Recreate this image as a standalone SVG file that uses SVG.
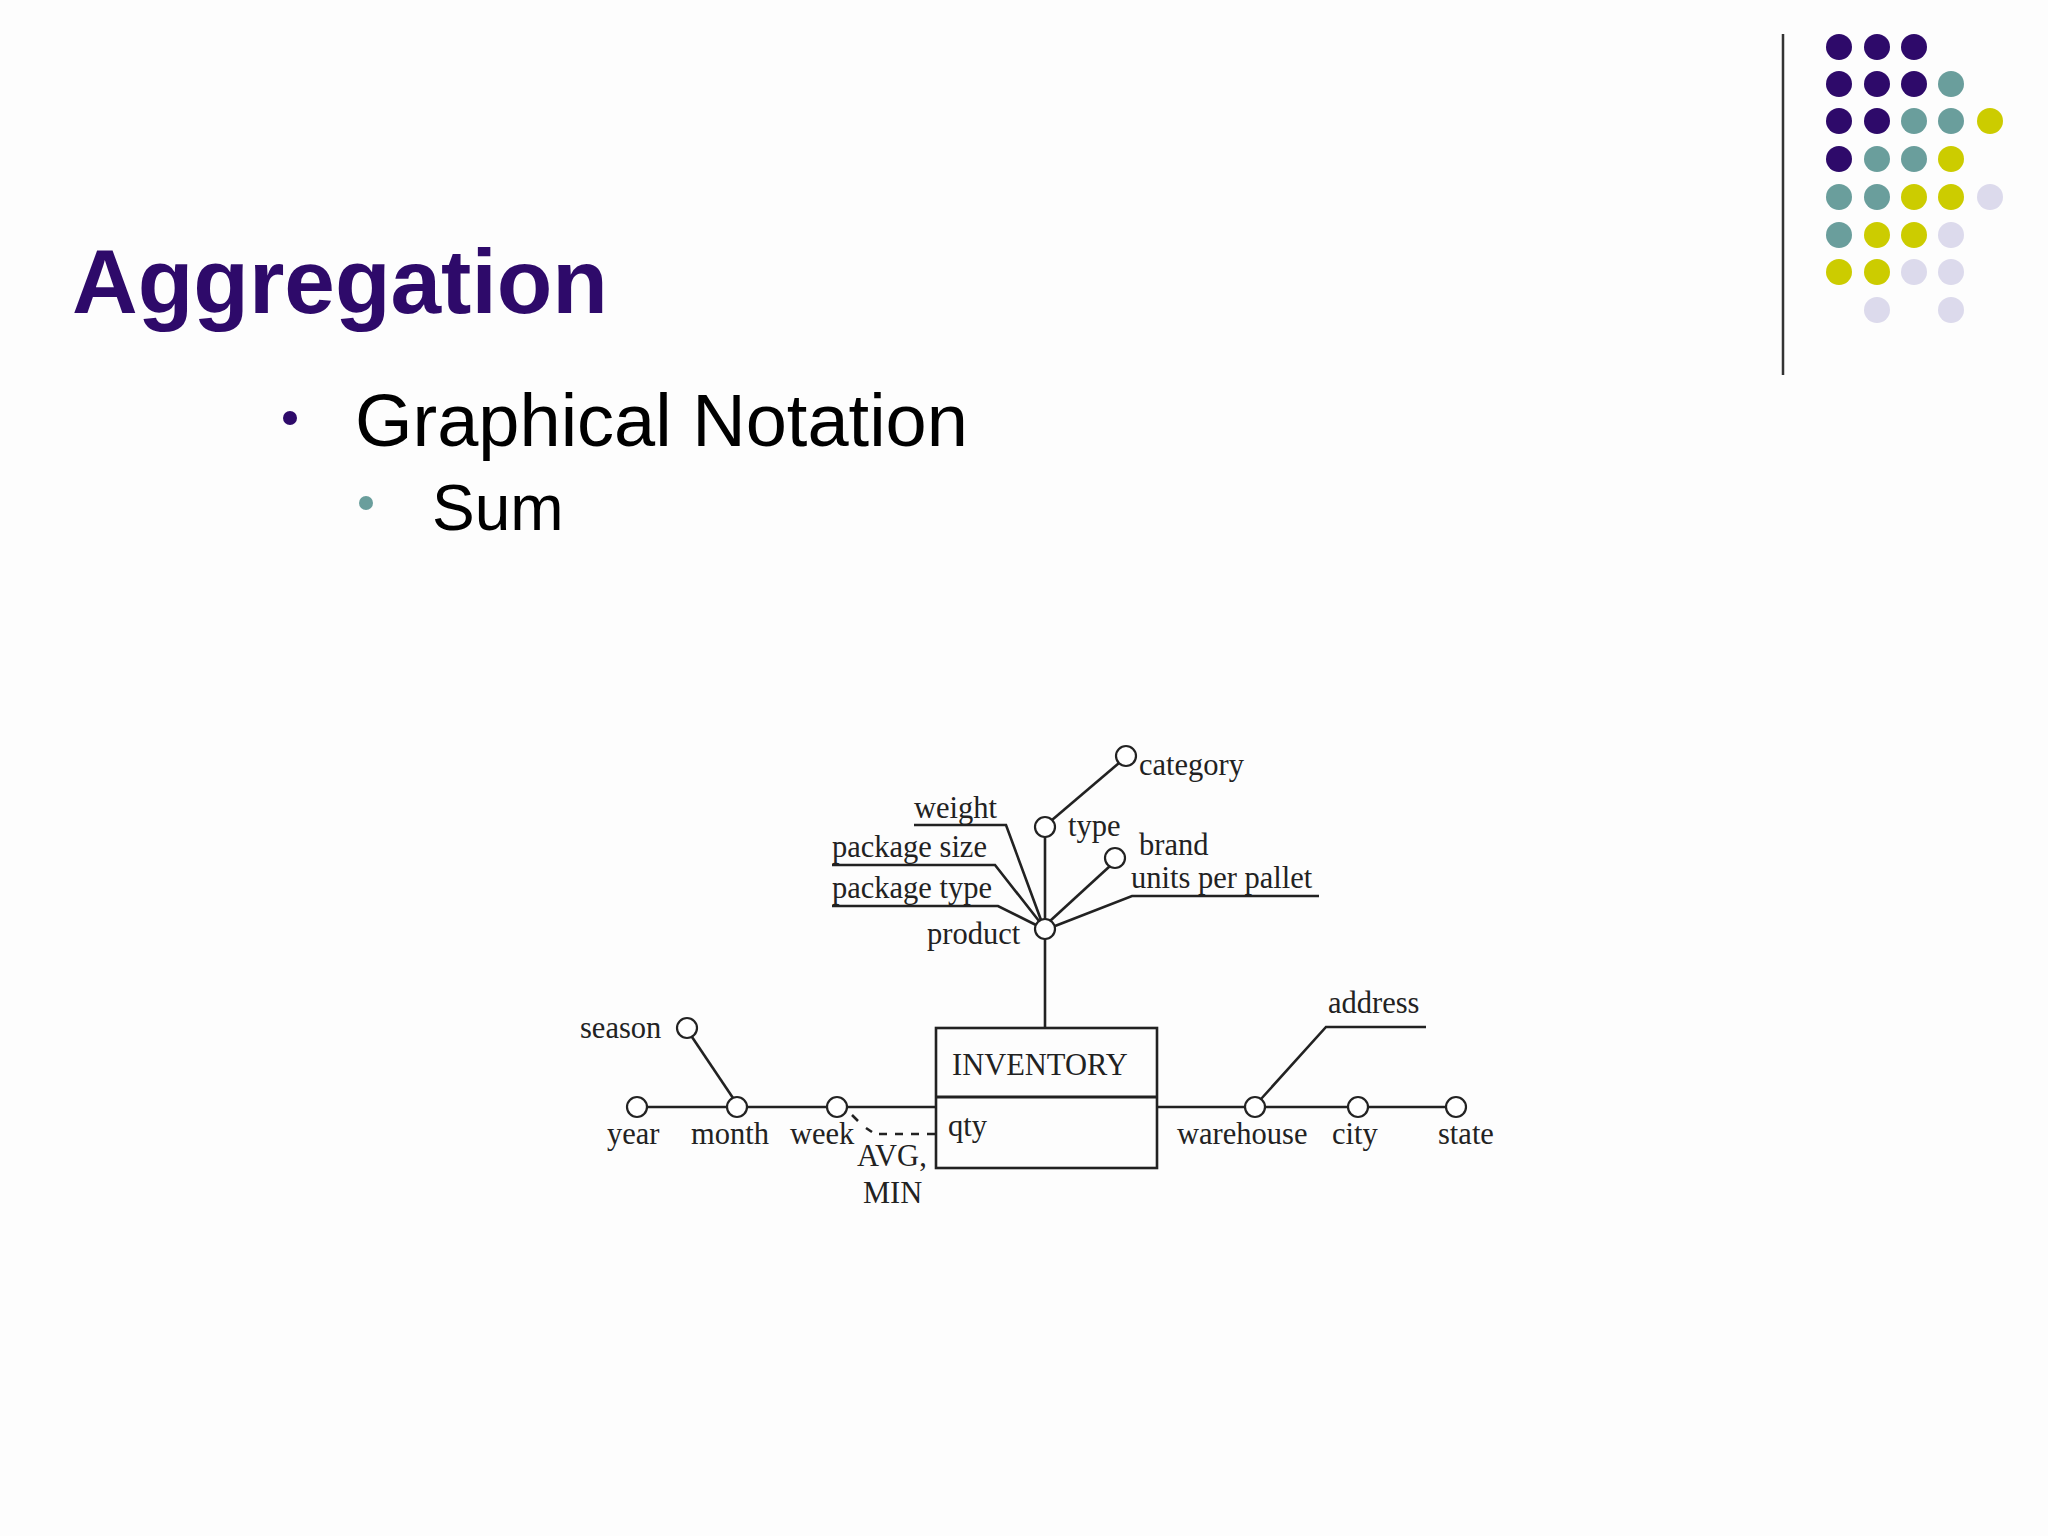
<svg xmlns="http://www.w3.org/2000/svg" width="2048" height="1536" viewBox="0 0 2048 1536">
<style>
.t{font-family:"Liberation Serif",serif;font-size:30.5px;fill:#222}
.n{fill:#fff;stroke:#222;stroke-width:2.2}
.l{stroke:#222;stroke-width:2.6;fill:none}
.d{fill:#2e0a6a}.g{fill:#6a9e9c}.y{fill:#cccc00}.p{fill:#dcdaec}
</style>
<rect width="2048" height="1536" fill="#fdfdfd"/>
<line x1="1783" y1="34" x2="1783" y2="375" stroke="#333" stroke-width="2.5"/>
<g id="dots">
<circle class="d" cx="1839" cy="47" r="13"/><circle class="d" cx="1877" cy="47" r="13"/><circle class="d" cx="1914" cy="47" r="13"/>
<circle class="d" cx="1839" cy="84" r="13"/><circle class="d" cx="1877" cy="84" r="13"/><circle class="d" cx="1914" cy="84" r="13"/><circle class="g" cx="1951" cy="84" r="13"/>
<circle class="d" cx="1839" cy="121" r="13"/><circle class="d" cx="1877" cy="121" r="13"/><circle class="g" cx="1914" cy="121" r="13"/><circle class="g" cx="1951" cy="121" r="13"/><circle class="y" cx="1990" cy="121" r="13"/>
<circle class="d" cx="1839" cy="159" r="13"/><circle class="g" cx="1877" cy="159" r="13"/><circle class="g" cx="1914" cy="159" r="13"/><circle class="y" cx="1951" cy="159" r="13"/>
<circle class="g" cx="1839" cy="197" r="13"/><circle class="g" cx="1877" cy="197" r="13"/><circle class="y" cx="1914" cy="197" r="13"/><circle class="y" cx="1951" cy="197" r="13"/><circle class="p" cx="1990" cy="197" r="13"/>
<circle class="g" cx="1839" cy="235" r="13"/><circle class="y" cx="1877" cy="235" r="13"/><circle class="y" cx="1914" cy="235" r="13"/><circle class="p" cx="1951" cy="235" r="13"/>
<circle class="y" cx="1839" cy="272" r="13"/><circle class="y" cx="1877" cy="272" r="13"/><circle class="p" cx="1914" cy="272" r="13"/><circle class="p" cx="1951" cy="272" r="13"/>
<circle class="p" cx="1877" cy="310" r="13"/><circle class="p" cx="1951" cy="310" r="13"/>
</g>
<text x="72" y="313" font-family="Liberation Sans,Arial,sans-serif" font-weight="bold" font-size="91" fill="#2e0a6a">Aggregation</text>
<circle cx="290" cy="418" r="7" fill="#2e0a6a"/>
<text x="355" y="446" font-family="Liberation Sans,Arial,sans-serif" font-size="74" fill="#000">Graphical Notation</text>
<circle cx="366" cy="503" r="7" fill="#6a9e9c"/>
<text x="432" y="530" font-family="Liberation Sans,Arial,sans-serif" font-size="64" fill="#000">Sum</text>
<g id="connectors">
<line class="l" x1="1045" y1="939" x2="1045" y2="1028" stroke-width="1.6"/>
<line class="l" x1="1045" y1="919" x2="1045" y2="837" stroke-width="1.6"/>
<line class="l" x1="1052" y1="820" x2="1119" y2="763"/>
<line class="l" x1="1050" y1="921" x2="1110" y2="866"/>
<polyline class="l" points="914,825 1006,825 1041,920"/>
<polyline class="l" points="832,865 995,865 1039,921"/>
<polyline class="l" points="832,906 998,906 1036,925"/>
<polyline class="l" points="1319,896 1132,896 1055,926"/>
<line class="l" x1="647" y1="1107" x2="727" y2="1107"/>
<line class="l" x1="747" y1="1107" x2="827" y2="1107"/>
<line class="l" x1="847" y1="1107" x2="936" y2="1107"/>
<line class="l" x1="1157" y1="1107" x2="1245" y2="1107"/>
<line class="l" x1="1265" y1="1107" x2="1348" y2="1107"/>
<line class="l" x1="1368" y1="1107" x2="1446" y2="1107"/>
<line class="l" x1="692" y1="1037" x2="733" y2="1098"/>
<polyline class="l" points="1261,1099 1326,1027 1426,1027"/>
<path class="l" d="M852,1115 L858,1121 M866,1128 L872,1132" stroke-width="2"/>
<line class="l" x1="879" y1="1134" x2="936" y2="1134" stroke-dasharray="8,8" stroke-width="2"/>
</g>
<g id="inventory">
<rect x="936" y="1028" width="221" height="140" fill="none" stroke="#222" stroke-width="2.6"/>
<line x1="936" y1="1097" x2="1157" y2="1097" stroke="#222" stroke-width="3"/>
<text class="t" x="952" y="1075">INVENTORY</text>
<text class="t" x="948" y="1136">qty</text>
</g>
<g id="product"><circle class="n" cx="1045" cy="929" r="10"/><text class="t" x="927" y="944">product</text></g>
<g id="type"><circle class="n" cx="1045" cy="827" r="10"/><text class="t" x="1068" y="836">type</text></g>
<g id="category"><circle class="n" cx="1126" cy="756" r="10"/><text class="t" x="1139" y="775">category</text></g>
<g id="brand"><circle class="n" cx="1115" cy="858" r="10"/><text class="t" x="1139" y="855">brand</text></g>
<g id="weight"><text class="t" x="914" y="818">weight</text></g>
<g id="package-size"><text class="t" x="832" y="857">package size</text></g>
<g id="package-type"><text class="t" x="832" y="898">package type</text></g>
<g id="units-per-pallet"><text class="t" x="1131" y="888">units per pallet</text></g>
<g id="season"><circle class="n" cx="687" cy="1028" r="10"/><text class="t" x="580" y="1038">season</text></g>
<g id="year"><circle class="n" cx="637" cy="1107" r="10"/><text class="t" x="607" y="1144">year</text></g>
<g id="month"><circle class="n" cx="737" cy="1107" r="10"/><text class="t" x="691" y="1144">month</text></g>
<g id="week"><circle class="n" cx="837" cy="1107" r="10"/><text class="t" x="790" y="1144">week</text></g>
<g id="agg"><text class="t" x="857" y="1166">AVG,</text><text class="t" x="863" y="1203">MIN</text></g>
<g id="warehouse"><circle class="n" cx="1255" cy="1107" r="10"/><text class="t" x="1177" y="1144">warehouse</text></g>
<g id="city"><circle class="n" cx="1358" cy="1107" r="10"/><text class="t" x="1332" y="1144">city</text></g>
<g id="state"><circle class="n" cx="1456" cy="1107" r="10"/><text class="t" x="1438" y="1144">state</text></g>
<g id="address"><text class="t" x="1328" y="1013">address</text></g>
</svg>
